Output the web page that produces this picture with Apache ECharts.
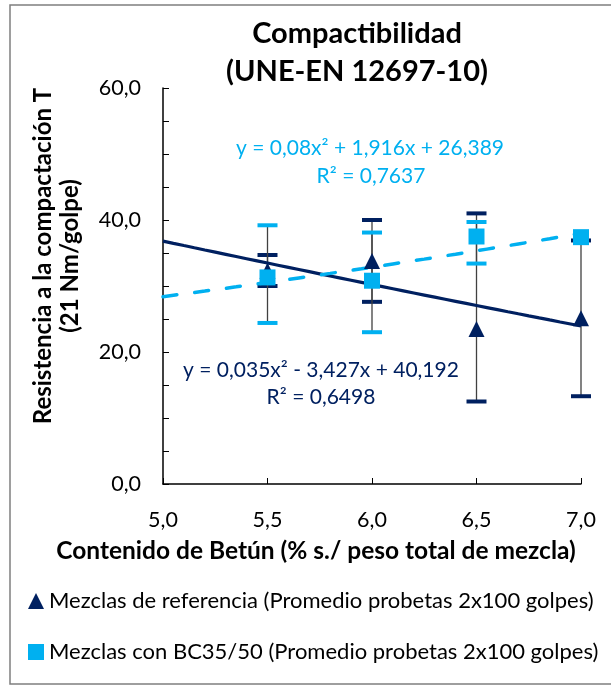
<!DOCTYPE html>
<html>
<head>
<meta charset="utf-8">
<script src="https://cdn.jsdelivr.net/npm/echarts@6/dist/echarts.min.js"></script>
<style>
  html, body { margin: 0; padding: 0; background: #fff; }
  #chart { width: 611px; height: 686px; }
</style>
</head>
<body>
<div id="chart"></div>
<script>
// Bitumen content (% by total mix weight)
const binderContent = [5.5, 6.0, 6.5, 7.0];

// Reference mixes: mean value with min / max of the specimens
const refMean = [32.3, 33.8, 23.5, 25.1];
const refLow  = [30.0, 27.6, 12.5, 13.3];
const refHigh = [34.7, 40.0, 41.0, 36.9];

// Mixes with BC35/50: mean value with min / max of the specimens
const bcMean = [31.3, 30.8, 37.5, 37.4];
const bcLow  = [24.4, 23.0, 33.4, 37.4];
const bcHigh = [39.2, 38.1, 39.7, 37.4];

// Polynomial trend coefficients [a, b, c] for y = a·n² + b·n + c (n = category index 1..5)
const refTrend = [0.035, -3.427, 40.192];
const bcTrend  = [0.08, 1.916, 26.389];
const refTrendText = ['y = 0,035x² - 3,427x + 40,192', 'R² = 0,6498'];
const bcTrendText  = ['y = 0,08x² + 1,916x + 26,389', 'R² = 0,7637'];

const xTicks = [5.0, 5.5, 6.0, 6.5, 7.0];
const yLabels = [0, 20, 40, 60];

const refName = 'Mezclas de referencia (Promedio probetas 2x100 golpes)';
const bcName  = 'Mezclas con BC35/50 (Promedio probetas 2x100 golpes)';

const NAVY = '#002060';
const SKY  = '#00B0F0';
const FONT = 'Lato';

// Trend curve sampled along the x range; index n runs 1 at 5.0 to 5 at 7.0
function trendCurve(coef) {
  const pts = [];
  const x0 = xTicks[0], x1 = xTicks[xTicks.length - 1];
  for (let k = 0; k <= 40; k++) {
    const x = x0 + (x1 - x0) * k / 40;
    const n = (x - x0) / 0.5 + 1;
    pts.push([x, coef[0] * n * n + coef[1] * n + coef[2]]);
  }
  return pts;
}

function errorData(low, high) {
  return binderContent.map((x, i) => [x, low[i], high[i]]);
}

function errorBars(color) {
  return function (params, api) {
    const x = api.value(0);
    const lo = api.coord([x, api.value(1)]);
    const hi = api.coord([x, api.value(2)]);
    const half = 10;
    if (Math.abs(hi[1] - lo[1]) < 0.5) return { type: 'group', children: [] };
    return {
      type: 'group',
      children: [
        { type: 'line', shape: { x1: lo[0], y1: lo[1], x2: hi[0], y2: hi[1] },
          style: { stroke: '#404040', lineWidth: 1.3 } },
        { type: 'line', shape: { x1: hi[0] - half, y1: hi[1], x2: hi[0] + half, y2: hi[1] },
          style: { stroke: color, lineWidth: 4 } },
        { type: 'line', shape: { x1: lo[0] - half, y1: lo[1], x2: lo[0] + half, y2: lo[1] },
          style: { stroke: color, lineWidth: 4 } }
      ]
    };
  };
}

const comma = v => v.toFixed(1).replace('.', ',');

const chart = echarts.init(document.getElementById('chart'), null, { renderer: 'canvas' });

chart.setOption({
  animation: false,
  backgroundColor: '#fff',
  textStyle: { fontFamily: FONT },
  grid: { left: 163, right: 30, top: 88, bottom: 202, containLabel: false },
  xAxis: {
    type: 'value', min: 5, max: 7, interval: 0.5,
    axisLine: { lineStyle: { color: '#000', width: 1.5 } },
    axisTick: { inside: true, length: 6, lineStyle: { color: '#000', width: 1 } },
    axisLabel: { color: '#000', fontSize: 21.5, fontFamily: FONT, margin: 25, formatter: comma },
    splitLine: { show: false }
  },
  yAxis: {
    type: 'value', min: 0, max: 60, interval: 5,
    axisLine: { show: true, lineStyle: { color: '#000', width: 1.5 } },
    axisTick: { show: true, inside: true, length: 6, lineStyle: { color: '#000', width: 1 } },
    axisLabel: {
      color: '#000', fontSize: 21.5, fontFamily: FONT, margin: 22,
      formatter: v => (yLabels.indexOf(v) >= 0 ? comma(v) : '')
    },
    splitLine: { show: false }
  },
  legend: {
    orient: 'vertical', left: 23, top: 585, itemGap: 29,
    itemWidth: 16, itemHeight: 16,
    textStyle: { fontSize: 22, fontFamily: FONT, color: '#000' },
    data: [{ name: refName, icon: 'triangle' }, { name: bcName, icon: 'rect' }]
  },
  graphic: [
    { type: 'rect', shape: { x: 10, y: 5, width: 610, height: 679 },
      style: { fill: 'none', stroke: '#7f7f7f', lineWidth: 1.5 }, silent: true },
    { type: 'text', x: 357, y: 34, style: { text: 'Compactibilidad', font: 'bold 29px ' + FONT,
      fill: '#000', textAlign: 'center', textVerticalAlign: 'middle' } },
    { type: 'text', x: 357, y: 72, style: { text: '(UNE-EN 12697-10)', font: 'bold 29px ' + FONT,
      fill: '#000', textAlign: 'center', textVerticalAlign: 'middle' } },
    { type: 'text', x: 43, y: 256, rotation: Math.PI / 2, style: { text: 'Resistencia a la compactación T',
      font: 'bold 24px ' + FONT, fill: '#000', textAlign: 'center', textVerticalAlign: 'middle' } },
    { type: 'text', x: 70, y: 256, rotation: Math.PI / 2, style: { text: '(21 Nm/golpe)',
      font: 'bold 24px ' + FONT, fill: '#000', textAlign: 'center', textVerticalAlign: 'middle' } },
    { type: 'text', x: 316, y: 551, style: { text: 'Contenido de Betún (% s./ peso total de mezcla)',
      font: 'bold 24.5px ' + FONT, fill: '#000', textAlign: 'center', textVerticalAlign: 'middle' } },
    { type: 'text', x: 370, y: 148, style: { text: bcTrendText[0], font: '21px ' + FONT,
      fill: SKY, textAlign: 'center', textVerticalAlign: 'middle' } },
    { type: 'text', x: 371, y: 176, style: { text: bcTrendText[1], font: '21px ' + FONT,
      fill: SKY, textAlign: 'center', textVerticalAlign: 'middle' } },
    { type: 'text', x: 321, y: 370, style: { text: refTrendText[0], font: '21px ' + FONT,
      fill: NAVY, textAlign: 'center', textVerticalAlign: 'middle' } },
    { type: 'text', x: 321, y: 397, style: { text: refTrendText[1], font: '21px ' + FONT,
      fill: NAVY, textAlign: 'center', textVerticalAlign: 'middle' } }
  ],
  series: [
    { type: 'custom', name: 'refErr', renderItem: errorBars(NAVY), data: errorData(refLow, refHigh),
      encode: { x: 0, y: [1, 2] }, z: 2, silent: true },
    { type: 'custom', name: 'bcErr', renderItem: errorBars(SKY), data: errorData(bcLow, bcHigh),
      encode: { x: 0, y: [1, 2] }, z: 2, silent: true },
    { type: 'line', name: 'refTrend', data: trendCurve(refTrend), showSymbol: false, smooth: false,
      lineStyle: { color: NAVY, width: 3.2 }, z: 3, silent: true },
    { type: 'line', name: 'bcTrend', data: trendCurve(bcTrend), showSymbol: false, smooth: false,
      lineStyle: { color: SKY, width: 3.5, type: [14, 18], cap: 'round' }, z: 3, silent: true },
    { type: 'scatter', name: refName, symbol: 'triangle', symbolSize: [16, 16],
      itemStyle: { color: NAVY, opacity: 1 }, z: 4,
      data: binderContent.map((x, i) => [x, refMean[i]]) },
    { type: 'scatter', name: bcName, symbol: 'rect', symbolSize: 16,
      itemStyle: { color: SKY, opacity: 1 }, z: 5,
      data: binderContent.map((x, i) => [x, bcMean[i]]) }
  ]
});
</script>
</body>
</html>
